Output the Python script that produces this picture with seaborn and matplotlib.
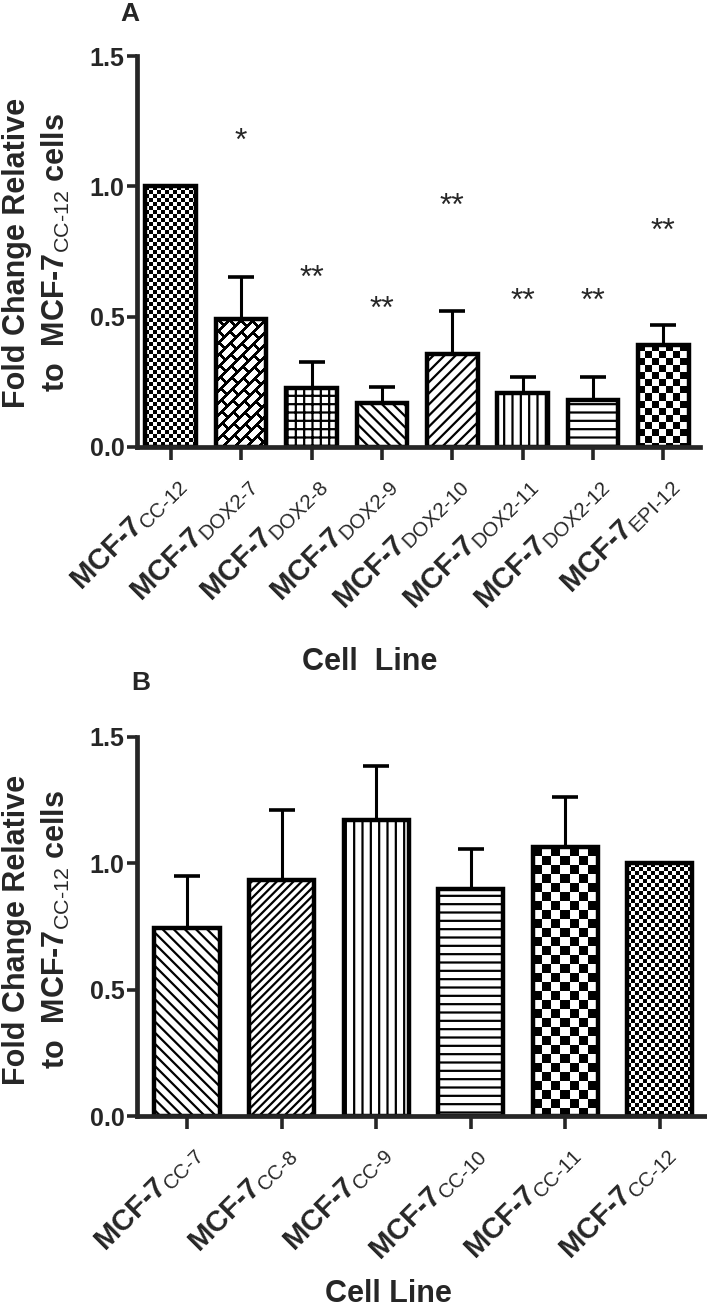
import numpy as np
import matplotlib
matplotlib.use('Agg')
import matplotlib.pyplot as plt
import seaborn as sns

# panel A data
labels_a = ['CC-12', 'DOX2-7', 'DOX2-8', 'DOX2-9', 'DOX2-10', 'DOX2-11', 'DOX2-12', 'EPI-12']
mean_a = [1.0, 0.49, 0.225, 0.17, 0.355, 0.207, 0.18, 0.392]
err_a = [0.0, 0.162, 0.103, 0.06, 0.168, 0.061, 0.09, 0.075]
stars_a = ['', '*', '**', '**', '**', '**', '**', '**']
star_y_a = [0.0, 1.17, 0.646, 0.525, 0.921, 0.556, 0.556, 0.825]
fills_a = ['checker4', 'brick', '++', '\\\\\\', '///', '||', '--', 'checker7']

# panel B data
labels_b = ['CC-7', 'CC-8', 'CC-9', 'CC-10', 'CC-11', 'CC-12']
mean_b = [0.745, 0.935, 1.172, 0.9, 1.063, 1.0]
err_b = [0.205, 0.275, 0.215, 0.155, 0.2, 0.0]
fills_b = ['\\\\\\', '////', '||', '--', 'checker9', 'checker4']

sns.set_style('ticks')
plt.rcParams['font.family'] = ['Liberation Sans', 'DejaVu Sans']
plt.rcParams['mathtext.fontset'] = 'custom'
plt.rcParams['mathtext.rm'] = 'Liberation Sans'
plt.rcParams['hatch.linewidth'] = 1.6
plt.rcParams['hatch.color'] = 'black'

HY = '\u2010'


def sub_label(s):
    return 'MCF-7$_{\\mathrm{' + s.replace('-', HY) + '}}$'


def texture(kind, nx, ny):
    cols, rows = np.meshgrid(np.arange(nx), np.arange(ny))
    if kind.startswith('checker'):
        cell = int(kind[7:])
        return ((cols // cell + rows // cell) % 2).astype(float)
    # brick-like diagonal pattern
    u = cols + rows
    k = u // 12
    v = cols - rows + (k % 2) * 11
    black = ((u % 12) < 4) | ((v % 22) < 4)
    return 1.0 - black.astype(float)


def draw_panel(ax, labels, means, errs, fills, width, xlim):
    sns.barplot(x=labels, y=means, color='white', saturation=1, edgecolor='black',
                linewidth=3.2, width=width, errorbar=None, ax=ax)
    ax.set_xlim(*xlim)
    ax.set_ylim(0, 1.5)
    for patch, fill in zip(ax.patches, fills):
        if fill.startswith('checker') or fill == 'brick':
            x0, y0 = patch.get_x(), patch.get_y()
            w, h = patch.get_width(), patch.get_height()
            p0 = ax.transData.transform((x0, y0))
            p1 = ax.transData.transform((x0 + w, y0 + h))
            nx = int(round(p1[0] - p0[0]))
            ny = int(round(p1[1] - p0[1]))
            im = ax.imshow(texture(fill, nx, ny), cmap='gray', vmin=0, vmax=1,
                           extent=(x0, x0 + w, y0, y0 + h), interpolation='nearest',
                           aspect='auto', zorder=0.8)
            im.set_clip_path(patch)
            patch.set_facecolor('none')
        else:
            patch.set_hatch(fill)
    idx = [i for i, e in enumerate(errs) if e > 0]
    ax.errorbar(idx, [means[i] for i in idx],
                yerr=[np.zeros(len(idx)), [errs[i] for i in idx]],
                fmt='none', ecolor='black', elinewidth=2.2, capsize=9.5, capthick=2.6, zorder=3)
    ax.set_xlim(*xlim)
    ax.set_ylim(0, 1.5)
    ax.set_yticks([0, 0.5, 1.0, 1.5])
    ax.set_yticklabels(['0.0', '0.5', '1.0', '1.5'], fontsize=18, fontweight='bold')
    ax.set_xticks(range(len(labels)))
    ax.set_xticklabels([sub_label(s) for s in labels], rotation=45, ha='right', va='top',
                       rotation_mode='anchor', fontsize=21, fontweight='bold')
    ax.tick_params(axis='y', length=7, width=2.6, pad=2)
    ax.tick_params(axis='x', length=9, width=2.6, pad=8)
    ax.set_xlabel('')
    ax.set_ylabel('')
    sns.despine(ax=ax)
    for sp in ['left', 'bottom']:
        ax.spines[sp].set_linewidth(3.4)


fig = plt.figure(figsize=(7.07, 13.10), dpi=100)
ax_a = fig.add_axes([137 / 707, 1 - 447 / 1310, 563 / 707, 391 / 1310])
ax_b = fig.add_axes([137 / 707, 1 - 1116 / 1310, 568 / 707, 379 / 1310])

draw_panel(ax_a, labels_a, mean_a, err_a, fills_a, 0.72, (-0.48, 7.52))
draw_panel(ax_b, labels_b, mean_b, err_b, fills_b, 0.69, (-0.53, 5.48))

for i, (s, y) in enumerate(zip(stars_a, star_y_a)):
    if s:
        ax_a.text(i, y, s, ha='center', va='center', fontsize=23)

ylab = 'Fold Change Relative\nto  MCF-7$_{\\mathrm{CC' + HY + '12}}$ cells'
fig.text(37 / 707, 1 - 253 / 1310, ylab, rotation=90, ha='center', va='center',
         multialignment='center', fontsize=22, fontweight='bold', linespacing=1.3)
fig.text(37 / 707, 1 - 930 / 1310, ylab, rotation=90, ha='center', va='center',
         multialignment='center', fontsize=22, fontweight='bold', linespacing=1.3)

fig.text(370 / 707, 1 - 662 / 1310, 'Cell  Line', ha='center', va='center',
         fontsize=22, fontweight='bold')
fig.text(388 / 707, 1 - 1294 / 1310, 'Cell Line', ha='center', va='center',
         fontsize=22, fontweight='bold')

fig.text(130 / 707, 1 - 14 / 1310, 'A', ha='center', va='center', fontsize=19, fontweight='bold')
fig.text(141 / 707, 1 - 683 / 1310, 'B', ha='center', va='center', fontsize=19, fontweight='bold')

fig.savefig('out.png', dpi=100)
